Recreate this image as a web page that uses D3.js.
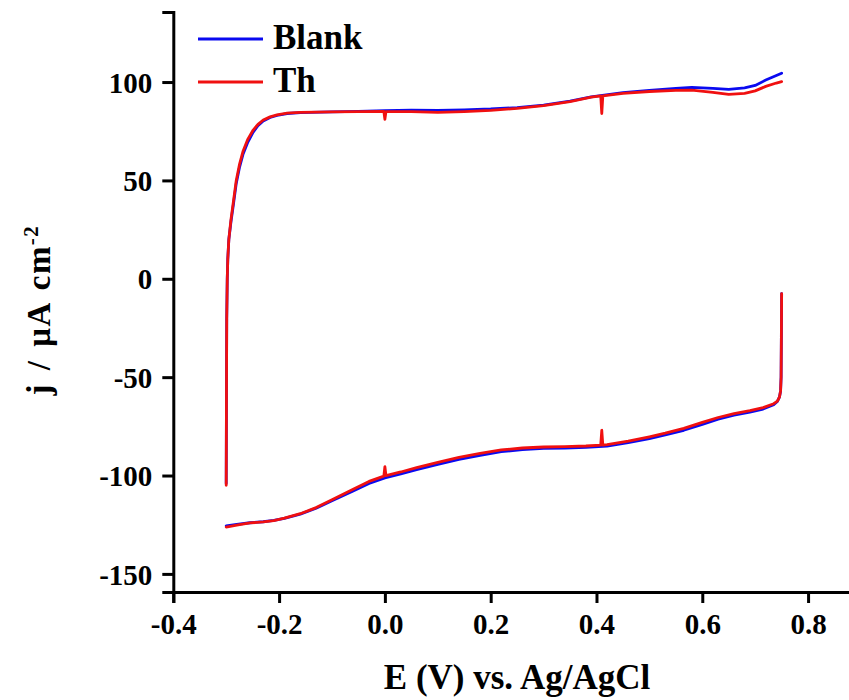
<!DOCTYPE html>
<html>
<head>
<meta charset="utf-8">
<script src="https://d3js.org/d3.v7.min.js"></script>
<style>
  html, body { margin: 0; padding: 0; background: #fff; }
  svg { display: block; }
  text { font-family: "Liberation Serif", "Times New Roman", serif; font-weight: bold; fill: #000; }
</style>
</head>
<body>
<svg id="chart" width="849" height="700"></svg>
<script>
// ---------- data ----------
const seriesNames = ["Blank", "Th"];
const seriesColors = ["#0a0af0", "#f01010"];

// anodic (forward) scan, -0.3 V -> 0.75 V
const fwdE_blank = [-0.300,-0.2995,-0.299,-0.298,-0.297,-0.295,-0.291,-0.286,-0.281,-0.275,-0.268,-0.259,-0.249,-0.240,-0.230,-0.217,-0.204,-0.185,-0.160,-0.100,-0.050,0.000,0.050,0.100,0.150,0.200,0.250,0.300,0.350,0.390,0.450,0.500,0.550,0.580,0.620,0.650,0.680,0.700,0.720,0.740,0.750];
const fwdJ_blank = [-104,-60,-20,0,10,20,29,38.5,48.5,56.5,63.5,69.5,74.5,77.8,80.2,82.0,83.0,84.0,84.5,84.8,85.1,85.4,85.7,85.6,85.9,86.3,87.0,88.3,90.3,92.5,94.6,95.8,96.8,97.3,96.8,96.3,97.0,98.3,101.0,103.3,104.5];

const fwdE_th = [-0.300,-0.2995,-0.299,-0.298,-0.297,-0.295,-0.291,-0.286,-0.281,-0.275,-0.268,-0.259,-0.249,-0.240,-0.230,-0.217,-0.204,-0.185,-0.160,-0.100,-0.050,-0.002,0.000,0.002,0.050,0.100,0.150,0.200,0.250,0.300,0.350,0.390,0.408,0.410,0.412,0.450,0.500,0.550,0.580,0.620,0.650,0.680,0.700,0.720,0.740,0.750];
const fwdJ_th = [-105,-60,-20,0,10,20,30,40,50,58,65,71,75.6,78.5,80.7,82.3,83.3,84.2,84.6,84.8,85.0,85.1,81.0,85.0,85.0,84.6,85.0,85.6,86.6,88.0,90.0,92.3,93.0,84.0,93.0,94.2,95.2,95.8,95.9,94.8,93.7,94.2,95.5,97.8,99.5,100.2];

// cathodic (reverse) scan, 0.75 V -> -0.3 V
const revE_blank = [0.750,0.7495,0.749,0.748,0.746,0.742,0.735,0.715,0.690,0.660,0.630,0.600,0.565,0.530,0.500,0.460,0.420,0.380,0.340,0.300,0.260,0.220,0.180,0.140,0.100,0.060,0.030,0.000,-0.030,-0.060,-0.100,-0.130,-0.160,-0.190,-0.210,-0.230,-0.255,-0.280,-0.300];
const revJ_blank = [-7.5,-30,-50,-57,-60,-62.4,-64.0,-66.2,-67.8,-69.3,-71.3,-74.0,-77.0,-79.4,-81.2,-83.3,-85.0,-85.7,-86.0,-86.2,-86.8,-87.9,-89.8,-91.8,-94.3,-97.0,-99.2,-101.2,-104.0,-107.8,-112.8,-116.6,-119.6,-121.8,-122.8,-123.5,-124.0,-124.8,-125.6];

const revE_th = [0.750,0.7495,0.749,0.748,0.746,0.742,0.735,0.715,0.690,0.660,0.630,0.600,0.565,0.530,0.500,0.460,0.420,0.412,0.410,0.408,0.380,0.340,0.300,0.260,0.220,0.180,0.140,0.100,0.060,0.030,0.002,0.000,-0.002,-0.030,-0.060,-0.100,-0.130,-0.160,-0.190,-0.210,-0.230,-0.255,-0.280,-0.300];
const revJ_th = [-7.5,-30,-50,-57,-60,-62.2,-63.5,-65.5,-67.0,-68.5,-70.5,-73.0,-76.0,-78.5,-80.3,-82.5,-84.3,-84.5,-77.0,-84.5,-85.0,-85.3,-85.5,-86.0,-87.0,-88.8,-90.8,-93.3,-96.0,-98.2,-100.0,-95.5,-100.3,-103.0,-107.0,-112.3,-116.3,-119.4,-121.7,-122.9,-123.6,-124.1,-125.2,-126.2];

const xTicks = [-0.4, -0.2, 0.0, 0.2, 0.4, 0.6, 0.8];
const yTicks = [-150, -100, -50, 0, 50, 100];

// ---------- chart ----------
const svg = d3.select("#chart");
const mLeft = 173.3, mRight = 850.4, mTop = 12, mBottom = 592;

const x = d3.scaleLinear().domain([-0.4, 0.88]).range([mLeft, mRight]);
const y = d3.scaleLinear().domain([-159.2, 135.6]).range([mBottom, mTop]);

const fmtX = d => d.toFixed(1).replace("\u2212", "-");
const fmtY = d => String(d);

const line = d3.line().x(d => x(d[0])).y(d => y(d[1]));
const zip = (a, b) => a.map((v, i) => [v, b[i]]);

const segments = [
  [zip(fwdE_blank, fwdJ_blank), zip(revE_blank, revJ_blank)],
  [zip(fwdE_th, fwdJ_th), zip(revE_th, revJ_th)]
];

const plot = svg.append("g");
segments.forEach((segs, si) => {
  segs.forEach(seg => {
    plot.append("path")
      .attr("d", line(seg))
      .attr("fill", "none")
      .attr("stroke", seriesColors[si])
      .attr("stroke-width", 2.8)
      .attr("stroke-linejoin", "round")
      .attr("stroke-linecap", "round");
  });
});

// axes
const xAxis = svg.append("g")
  .attr("transform", `translate(0,${mBottom})`)
  .call(d3.axisBottom(x).tickValues(xTicks).tickFormat(fmtX).tickSizeOuter(0).tickSize(11));
const yAxis = svg.append("g")
  .attr("transform", `translate(${mLeft},0)`)
  .call(d3.axisLeft(y).tickValues(yTicks).tickFormat(fmtY).tickSizeOuter(0).tickSize(11));

[xAxis, yAxis].forEach(g => {
  g.select(".domain").attr("stroke", "#000").attr("stroke-width", 3);
  g.selectAll(".tick line").attr("stroke", "#000").attr("stroke-width", 3);
  g.selectAll(".tick text")
    .style("font-family", '"Liberation Serif", "Times New Roman", serif')
    .style("font-weight", "bold")
    .style("font-size", "29px")
    .attr("fill", "#000");
});
xAxis.selectAll(".tick text").attr("y", 42).attr("dy", null);
yAxis.selectAll(".tick text").attr("x", -21).attr("dy", "0.35em");

// axis titles
svg.append("text")
  .attr("x", 517).attr("y", 689)
  .attr("text-anchor", "middle")
  .style("font-size", "35px")
  .text("E (V) vs. Ag/AgCl");

const yt = svg.append("text")
  .attr("transform", "translate(50,310) rotate(-90)")
  .attr("text-anchor", "middle")
  .style("font-size", "33px")
  .style("letter-spacing", "1.5px")
  .style("word-spacing", "3px");
yt.append("tspan").text("j / \u03bcA cm");
yt.append("tspan").attr("dy", "-0.55em").style("font-size", "21px").text("-2");

// legend
const legY = [39, 82];
seriesNames.forEach((name, i) => {
  svg.append("line")
    .attr("x1", 198).attr("x2", 263)
    .attr("y1", legY[i]).attr("y2", legY[i])
    .attr("stroke", seriesColors[i]).attr("stroke-width", 3);
  svg.append("text")
    .attr("x", 273).attr("y", legY[i] + 10)
    .style("font-size", "35px")
    .text(name);
});
</script>
</body>
</html>
